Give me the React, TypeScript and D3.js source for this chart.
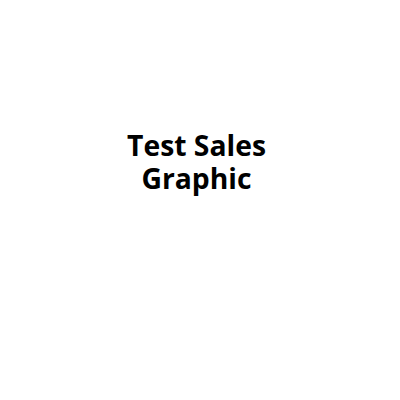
import React from "react";
import * as d3 from "d3";

const titleLines: string[] = ["Test Sales", "Graphic"];
const categories: string[] = [];
const salesValues: number[] = [];

export default function App() {
  const width = 400;
  const height = 400;
  const pie = d3.pie<number>().sort(null);
  const arcs = pie(salesValues);
  const arc = d3.arc<d3.PieArcDatum<number>>().innerRadius(0).outerRadius(120);
  const color = d3.scaleOrdinal<string, string>().domain(categories).range(d3.schemeCategory10);

  return (
    <svg
      width={width}
      height={height}
      style={{ position: "absolute", left: 0, top: 0, background: "#fff" }}
    >
      <g transform="translate(200,260)">
        {arcs.map((a, i) => (
          <path key={i} d={arc(a) || ""} fill={color(categories[i])} />
        ))}
      </g>
      {titleLines.map((t, i) => (
        <text
          key={i}
          x={196.5}
          y={156 + i * 33.3}
          textAnchor="middle"
          fontFamily="'Open Sans', sans-serif"
          fontWeight={700}
          fontSize={28.3}
          fill="#000"
        >
          {t}
        </text>
      ))}
    </svg>
  );
}
